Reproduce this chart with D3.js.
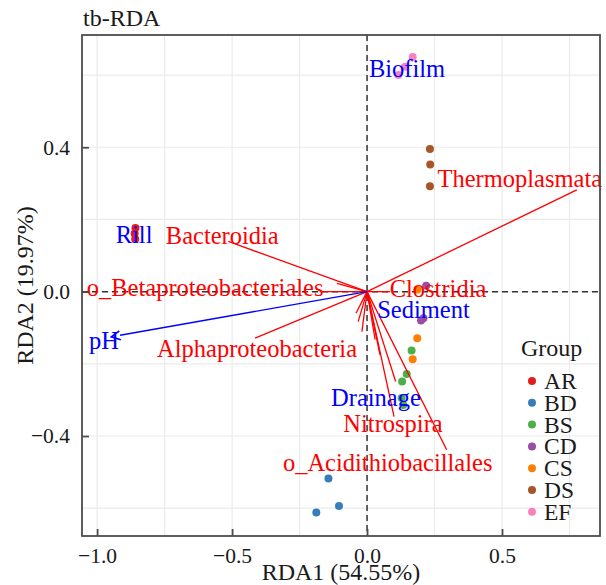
<!DOCTYPE html>
<html>
<head>
<meta charset="utf-8">
<script src="https://cdn.jsdelivr.net/npm/d3@7"></script>
<style>
  body { margin: 0; background: #fff; }
  text { font-family: "Liberation Serif", "Times New Roman", serif; }
</style>
</head>
<body>
<svg id="chart" width="606" height="585"></svg>
<script>
// sample scores
const sampleGroup = ['AR','AR','AR','BD','BD','BD','BS','BS','BS','BS','BS','CD','CD','CD','CS','CS','CS','DS','DS','DS','EF','EF','EF'];
const sampleRDA1 = [-0.858,-0.861,-0.859,-0.143,-0.104,-0.188,0.165,0.147,0.130,0.128,0.134,0.219,0.209,0.200,0.186,0.186,0.169,0.233,0.234,0.233,0.169,0.141,0.116];
const sampleRDA2 = [0.176,0.161,0.146,-0.518,-0.594,-0.612,-0.163,-0.228,-0.249,-0.295,-0.314,0.016,-0.074,-0.080,0.006,-0.129,-0.187,0.395,0.352,0.292,0.650,0.623,0.600];

// species (red) arrows, unlabelled ones have an empty name
const speciesNames = ['Thermoplasmata','Bacteroidia','o_Betaproteobacteriales','Alphaproteobacteria','Clostridia','Nitrospira','o_Acidithiobacillales','','','','','','',''];
const speciesRDA1 = [0.777,-0.514,-0.170,-0.415,0.085,0.100,0.295,-0.112,-0.041,-0.033,-0.019,0.030,0.048,0.106];
const speciesRDA2 = [0.282,0.139,0.000,-0.129,0.000,-0.346,-0.438,0.023,-0.060,-0.083,-0.111,-0.133,-0.175,-0.249];

// environmental factors
const envArrowNames = ['pH'];
const envArrowRDA1 = [-0.915];
const envArrowRDA2 = [-0.121];
const envCentroidNames = ['Rill','Biofilm','Sediment','Drainage'];
const envCentroidRDA1 = [-0.863,0.148,0.209,0.033];
const envCentroidRDA2 = [0.157,0.618,-0.050,-0.294];

const groups = ['AR','BD','BS','CD','CS','DS','EF'];
const groupColors = ['#E41A1C','#377EB8','#4DAF4A','#984EA3','#FF7F00','#A65628','#F781BF'];
const xTicks = [-1.0,-0.5,0.0,0.5];
const yTicks = [-0.4,0.0,0.4];
const xMinor = [-0.75,-0.25,0.25,0.75];
const yMinor = [-0.6,-0.2,0.2,0.6];

// label nudges (px) from the arrow tip, like ggrepel put them
const labelNudge = {
  'Thermoplasmata': [-57,-11],
  'Bacteroidia': [-6,-6],
  'o_Betaproteobacteriales': [-116,-4],
  'Alphaproteobacteria': [2,10],
  'Clostridia': [48,-3],
  'Nitrospira': [-1,7],
  'o_Acidithiobacillales': [-59,13],
  'pH': [-16,5]
};

const svg = d3.select('#chart');
const pLeft = 82, pRight = 600, pTop = 35, pBottom = 536;
const labelSize = 24.5;

const x = d3.scaleLinear().domain([-1.056, 0.863]).range([pLeft, pRight]);
const y = d3.scaleLinear().domain([-0.677, 0.711]).range([pBottom, pTop]);
const color = d3.scaleOrdinal().domain(groups).range(groupColors);

const fmt = v => d3.format('.1f')(v).replace('-', '\u2212');

// grid
const grid = svg.append('g');
grid.selectAll('line.gx').data(xTicks.concat(xMinor)).join('line')
  .attr('x1', d => x(d)).attr('x2', d => x(d)).attr('y1', pTop).attr('y2', pBottom)
  .attr('stroke', '#ebebeb').attr('stroke-width', 1.2);
grid.selectAll('line.gy').data(yTicks.concat(yMinor)).join('line')
  .attr('y1', d => y(d)).attr('y2', d => y(d)).attr('x1', pLeft).attr('x2', pRight)
  .attr('stroke', '#ebebeb').attr('stroke-width', 1.2);

// zero lines
svg.append('line').attr('x1', x(0)).attr('x2', x(0)).attr('y1', pTop).attr('y2', pBottom)
  .attr('stroke', '#333').attr('stroke-width', 1.5).attr('stroke-dasharray', '6,4');
svg.append('line').attr('y1', y(0)).attr('y2', y(0)).attr('x1', pLeft).attr('x2', pRight)
  .attr('stroke', '#333').attr('stroke-width', 1.5).attr('stroke-dasharray', '6,4');

// samples
svg.append('g').selectAll('circle').data(sampleGroup).join('circle')
  .attr('cx', (d, i) => x(sampleRDA1[i]))
  .attr('cy', (d, i) => y(sampleRDA2[i]))
  .attr('r', 4)
  .attr('fill', d => color(d));

// species arrows
svg.append('g').selectAll('line').data(speciesNames).join('line')
  .attr('x1', x(0)).attr('y1', y(0))
  .attr('x2', (d, i) => x(speciesRDA1[i]))
  .attr('y2', (d, i) => y(speciesRDA2[i]))
  .attr('stroke', '#FF0000').attr('stroke-width', 1.3);

// env arrow with head
svg.append('defs').append('marker')
  .attr('id', 'head').attr('viewBox', '0 0 10 10').attr('refX', 1).attr('refY', 5)
  .attr('markerWidth', 8).attr('markerHeight', 8).attr('orient', 'auto-start-reverse')
  .append('path').attr('d', 'M1,1 L9,5 L1,9').attr('fill', 'none').attr('stroke', '#0000FF').attr('stroke-width', 1.4);
svg.append('g').selectAll('line').data(envArrowNames).join('line')
  .attr('x1', x(0)).attr('y1', y(0))
  .attr('x2', (d, i) => x(envArrowRDA1[i]))
  .attr('y2', (d, i) => y(envArrowRDA2[i]))
  .attr('stroke', '#0000FF').attr('stroke-width', 1.4)
  .attr('marker-end', 'url(#head)');

// labels
svg.append('g').selectAll('text').data(speciesNames.filter(d => d)).join('text')
  .attr('x', d => { const i = speciesNames.indexOf(d); return x(speciesRDA1[i]) + labelNudge[d][0]; })
  .attr('y', d => { const i = speciesNames.indexOf(d); return y(speciesRDA2[i]) + labelNudge[d][1]; })
  .attr('text-anchor', 'middle').attr('dominant-baseline', 'central')
  .attr('font-size', labelSize).attr('fill', '#FF0000')
  .text(d => d);
svg.append('g').selectAll('text').data(envArrowNames).join('text')
  .attr('x', (d, i) => x(envArrowRDA1[i]) + labelNudge[d][0])
  .attr('y', (d, i) => y(envArrowRDA2[i]) + labelNudge[d][1])
  .attr('text-anchor', 'middle').attr('dominant-baseline', 'central')
  .attr('font-size', labelSize).attr('fill', '#0000FF')
  .text(d => d);
svg.append('g').selectAll('text').data(envCentroidNames).join('text')
  .attr('x', (d, i) => x(envCentroidRDA1[i]))
  .attr('y', (d, i) => y(envCentroidRDA2[i]))
  .attr('text-anchor', 'middle').attr('dominant-baseline', 'central')
  .attr('font-size', labelSize).attr('fill', '#0000FF')
  .text(d => d);

// panel border
svg.append('rect').attr('x', pLeft).attr('y', pTop).attr('width', pRight - pLeft).attr('height', pBottom - pTop)
  .attr('fill', 'none').attr('stroke', '#4d4d4d').attr('stroke-width', 1.8);

// axes with inward ticks
const xAxis = svg.append('g').attr('transform', `translate(0,${pBottom})`)
  .call(d3.axisBottom(x).tickValues(xTicks).tickSize(-7).tickPadding(12).tickFormat(fmt));
const yAxis = svg.append('g').attr('transform', `translate(${pLeft},0)`)
  .call(d3.axisLeft(y).tickValues(yTicks).tickSize(-7).tickPadding(12).tickFormat(fmt));
[xAxis, yAxis].forEach(a => {
  a.select('.domain').remove();
  a.selectAll('.tick line').attr('stroke', '#4d4d4d').attr('stroke-width', 1.8);
  a.selectAll('.tick text').attr('font-size', 21.5).attr('fill', '#1a1a1a')
    .attr('font-family', '"Liberation Serif", serif');
});
xAxis.selectAll('.tick text').attr('dy', '0.71em');

// titles
svg.append('text').attr('x', (pLeft + pRight) / 2).attr('y', 580).attr('text-anchor', 'middle')
  .attr('font-size', 24).attr('fill', '#1a1a1a').text('RDA1 (54.55%)');
svg.append('text').attr('transform', `translate(33,${(pTop + pBottom) / 2}) rotate(-90)`)
  .attr('text-anchor', 'middle').attr('font-size', 24).attr('fill', '#1a1a1a').text('RDA2 (19.97%)');
svg.append('text').attr('x', 83).attr('y', 26).attr('font-size', 24).attr('fill', '#1a1a1a').text('tb-RDA');

// legend
const legend = svg.append('g');
legend.append('text').attr('x', 521).attr('y', 356).attr('font-size', 24).attr('fill', '#1a1a1a').text('Group');
const items = legend.selectAll('g.item').data(groups).join('g')
  .attr('transform', (d, i) => `translate(532,${381 + i * 21.8})`);
items.append('circle').attr('r', 4).attr('fill', d => color(d));
items.append('text').attr('x', 12).attr('dominant-baseline', 'central')
  .attr('font-size', 23.5).attr('fill', '#1a1a1a').text(d => d);
</script>
</body>
</html>
